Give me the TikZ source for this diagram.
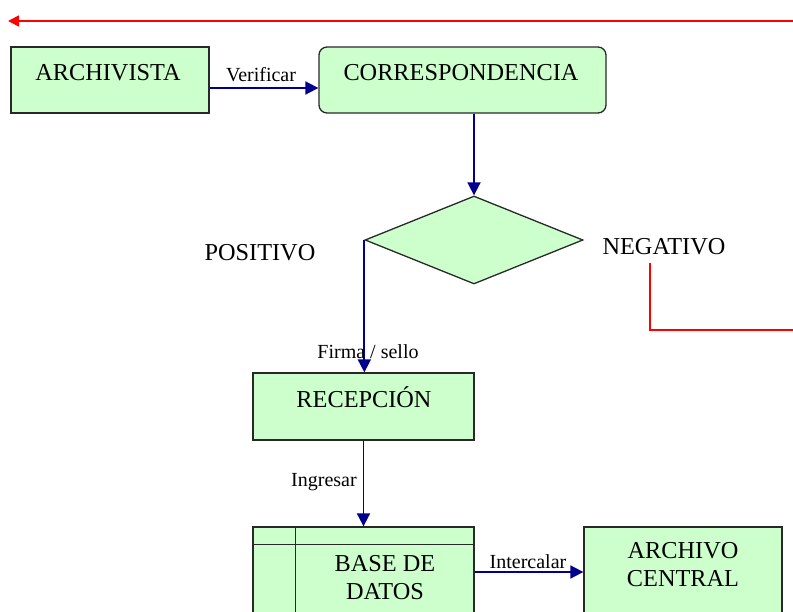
\documentclass[tikz,border=0pt]{standalone}
\usepackage{fontspec}
\setmainfont{Liberation Serif}
\usetikzlibrary{shapes.geometric,arrows.meta}
\definecolor{boxfill}{RGB}{204,255,204}
\definecolor{boxline}{RGB}{40,40,40}
\definecolor{flow}{RGB}{0,0,140}
\definecolor{back}{RGB}{255,0,0}
\tikzset{
  procbox/.style={draw=boxline, line width=1.3pt, fill=boxfill, inner sep=0pt},
  boxtext/.style={font=\fontsize{24.3}{28}\selectfont, inner sep=0pt, align=center},
  flowlabel/.style={font=\fontsize{20}{22}\selectfont, inner sep=0pt},
  flowline/.style={draw=flow, line width=1.8pt},
  flowarrow/.style={flowline, -{Triangle[length=13pt,width=13pt]}},
  backline/.style={draw=back, line width=1.6pt},
}
\begin{document}
\begin{tikzpicture}[x=1pt,y=-1pt]
\useasboundingbox (0,0) rectangle (793,612);
\clip (0,0) rectangle (793,612);

% boxes
\node[procbox, minimum width=198pt, minimum height=66pt] (arch) at (110,80) {};
\node[boxtext] (archT) at (108,73) {ARCHIVISTA};
\node[procbox, rounded corners=8pt, minimum width=287pt, minimum height=66pt] (corr) at (462.5,80) {};
\node[boxtext] (corrT) at (461,73) {CORRESPONDENCIA};
\node[procbox, diamond, minimum width=218pt, minimum height=88pt] (dec) at (474,240) {};
\node[procbox, minimum width=221pt, minimum height=67pt] (rec) at (363.5,406.5) {};
\node[boxtext] (recT) at (364,397) {RECEPCIÓN};
\node[procbox, minimum width=221pt, minimum height=120pt] (base) at (363.5,587) {};
\node[boxtext] (baseT) at (385,578) {BASE DE\\DATOS};
\node[procbox, minimum width=198pt, minimum height=120pt] (arcc) at (683,587) {};
\node[boxtext] (arccT) at (683,565) {ARCHIVO\\CENTRAL};

% inner rules of the data-store box
\draw[boxline, line width=1.3pt] ([xshift=43pt]base.north west) -- ([xshift=43pt]base.south west);
\draw[boxline, line width=1.3pt] ([yshift=-18pt]base.north west) -- ([yshift=-18pt]base.north east);

% decision outcomes
\node[boxtext] (pos) at (260,253) {POSITIVO};
\node[boxtext] (neg) at (664,247) {NEGATIVO};

% flow connectors
\draw[flowarrow] (arch.east |- 0,88) -- (corr.west |- 0,88);
\node[flowlabel] (verif) at (261,75) {Verificar};
\draw[flowarrow] (corr.south -| dec.north) -- (dec.north);
\draw[flowarrow] (dec.west) -- (dec.west |- rec.north);
\node[flowlabel] (firma) at (368,352) {Firma / sello};
\draw[flowarrow] (rec.south) -- (base.north);
\node[flowlabel] (ingr) at (324,482) {Ingresar};
\draw[flowarrow] (base.east |- 0,572) -- (arcc.west |- 0,572);
\node[flowlabel] (inter) at (528,562) {Intercalar};

% return path for negative answers
\coordinate (r1) at (650,263);
\coordinate (r2) at (650,330);
\coordinate (r3) at (800,330);
\coordinate (t1) at (800,21);
\coordinate (t2) at (8,21);
\draw[backline] (r1) -- (r2) -- (r3);
\draw[backline, -{Triangle[length=11pt,width=11pt]}] (t1) -- (t2);
\end{tikzpicture}
\end{document}
